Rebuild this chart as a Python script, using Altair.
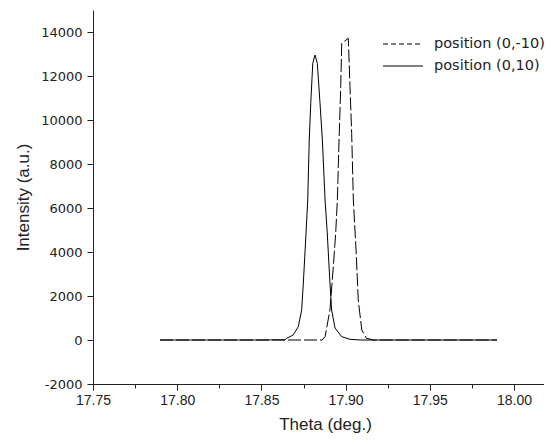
import altair as alt
import pandas as pd

series_names = ["position (0,-10)", "position (0,10)"]

dash_theta = [17.7898, 17.8200, 17.8500, 17.8700, 17.8860, 17.8878, 17.8907, 17.8927,
              17.8941, 17.8951, 17.8961, 17.8971, 17.8977, 17.9016, 17.9026, 17.9036,
              17.9046, 17.9062, 17.9075, 17.9096, 17.9125, 17.9165, 17.9500, 17.9899]
dash_intensity = [0, 0, 0, 0, 0, 150, 1364, 3333,
                  4848, 6364, 9091, 11515, 13485, 13714, 11515, 9394,
                  6364, 4091, 1818, 455, 77, 0, 0, 0]

solid_theta = [17.7898, 17.8200, 17.8500, 17.8640, 17.8650, 17.8689, 17.8719, 17.8739,
               17.8749, 17.8765, 17.8775, 17.8784, 17.8793, 17.8805, 17.8818, 17.8832,
               17.8848, 17.8862, 17.8878, 17.8891, 17.8907, 17.8917, 17.8937, 17.8977,
               17.9026, 17.9086, 17.9500, 17.9899]
solid_intensity = [0, 0, 0, 10, 77, 227, 605, 1364,
                   2591, 4864, 6364, 9091, 10759, 12577, 12955, 12577,
                   10759, 9091, 6364, 4864, 2591, 1364, 545, 150,
                   32, 0, 0, 0]

x_major = [17.75, 17.80, 17.85, 17.90, 17.95, 18.00]
x_minor = [17.775, 17.825, 17.875, 17.925, 17.975]
y_major = [-2000, 0, 2000, 4000, 6000, 8000, 10000, 12000, 14000]
y_minor = [-1000, 1000, 3000, 5000, 7000, 9000, 11000, 13000, 15000]

x_domain = [17.75, 18.0178]
y_domain = [-2000, 15000]

ink = "#222222"

df_dash = pd.DataFrame({"theta": dash_theta, "intensity": dash_intensity})
df_solid = pd.DataFrame({"theta": solid_theta, "intensity": solid_intensity})

x_axis = alt.Axis(
    values=x_major + x_minor,
    labelExpr="round(datum.value * 40) % 2 == 0 ? format(datum.value, '.2f') : ''",
    tickSize={"condition": {"test": "round(datum.value * 40) % 2 != 0", "value": 4}, "value": 6},
    labelFont="Liberation Sans", labelFontSize=14, labelPadding=3, labelColor=ink,
    labelOverlap=False, labelFlush=False, grid=False,
    title="Theta (deg.)", titleFont="Liberation Sans", titleFontSize=17,
    titleFontWeight="normal", titleColor=ink, titleX=232, titleY=45,
    titleBaseline="alphabetic", titleAlign="center",
    domainColor=ink, tickColor=ink,
)
y_axis = alt.Axis(
    values=y_major + y_minor,
    labelExpr="round(datum.value / 1000) % 2 == 0 ? '' + datum.value : ''",
    tickSize={"condition": {"test": "round(datum.value / 1000) % 2 != 0", "value": 4}, "value": 6},
    labelFont="DejaVu Sans", labelFontSize=13, labelPadding=5, labelColor=ink,
    labelOverlap=False, labelFlush=False, grid=False,
    title="Intensity (a.u.)", titleFont="Liberation Sans", titleFontSize=17,
    titleFontWeight="normal", titleColor=ink, titleAngle=270, titleX=-65, titleY=187,
    titleBaseline="alphabetic", titleAlign="center",
    domainColor=ink, tickColor=ink,
)

x_enc = alt.X("theta:Q", scale=alt.Scale(domain=x_domain, nice=False, zero=False), axis=x_axis)
y_enc = alt.Y("intensity:Q", scale=alt.Scale(domain=y_domain, nice=False, zero=False), axis=y_axis)

dashed = alt.Chart(df_dash).mark_line(color="black", strokeWidth=1, strokeDash=[13, 3]).encode(
    x=x_enc, y=y_enc)
solid = alt.Chart(df_solid).mark_line(color="black", strokeWidth=1).encode(
    x=alt.X("theta:Q"), y=alt.Y("intensity:Q"))

leg1 = pd.DataFrame({"label": [series_names[0]]})
leg2 = pd.DataFrame({"label": [series_names[1]]})

leg_rule1 = alt.Chart(leg1).mark_rule(color="black", strokeWidth=1, strokeDash=[5, 3]).encode(
    x=alt.value(290), x2=alt.value(330), y=alt.value(34))
leg_text1 = alt.Chart(leg1).mark_text(align="left", baseline="middle", font="DejaVu Sans",
                                      fontSize=14.5, color=ink).encode(
    x=alt.value(341), y=alt.value(34), text="label:N")
leg_rule2 = alt.Chart(leg2).mark_rule(color="black", strokeWidth=1).encode(
    x=alt.value(290), x2=alt.value(330), y=alt.value(56))
leg_text2 = alt.Chart(leg2).mark_text(align="left", baseline="middle", font="DejaVu Sans",
                                      fontSize=14.5, color=ink).encode(
    x=alt.value(341), y=alt.value(56), text="label:N")

chart = alt.layer(dashed, solid, leg_rule1, leg_text1, leg_rule2, leg_text2).properties(
    width=451, height=374,
    autosize=alt.AutoSizeParams(type="none"),
    padding={"left": 85, "top": 2, "right": 0, "bottom": 49},
    background="white",
).configure_view(stroke=None)

chart.save("out.html", embed_options={"renderer": "svg", "actions": False})
